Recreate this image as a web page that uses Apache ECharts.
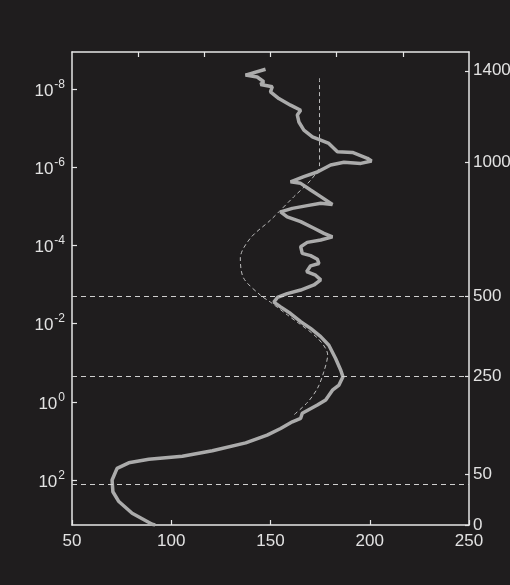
<!DOCTYPE html>
<html>
<head>
<meta charset="utf-8">
<script src="https://cdn.jsdelivr.net/npm/echarts@6/dist/echarts.min.js"></script>
<style>
  html, body { margin: 0; padding: 0; background: #1f1d1e; }
  #chart { width: 510px; height: 585px; }
</style>
</head>
<body>
<div id="chart"></div>
<script>
// measured temperature profile: x = temperature, y = log10(pressure)
var tempMain = [147.5, 137.4, 143.3, 146.6, 145.0, 150.9, 150.0, 154.2, 160.1, 165.2,
  163.5, 164.3, 166.8, 171.1, 179.4, 183.7, 191.3, 198.8, 200.9, 195.5,
  187.0, 180.3, 173.6, 166.8, 160.1, 165.2, 170.2, 175.3, 181.2, 175.3,
  168.5, 161.0, 155.1, 158.4, 165.2, 171.9, 176.9, 181.2, 175.3, 168.5,
  165.2, 166.0, 170.2, 173.6, 174.4, 170.2, 168.2, 172.7, 175.3, 171.9,
  165.2, 158.4, 153.5, 151.7, 155.1, 160.1, 165.2, 170.2, 175.3, 179.4,
  182.8, 185.4, 186.5, 184.5, 181.2, 177.8, 173.6, 166.0, 165.2, 161.0,
  155.1, 148.3, 137.5, 120.7, 105.6, 88.7, 78.6, 72.7, 70.2, 70.6,
  73.6, 80.3, 90.4, 91.9]
var logpMain = [-8.51, -8.36, -8.31, -8.19, -8.12, -8.06, -7.93, -7.76, -7.59, -7.46,
  -7.34, -7.16, -6.95, -6.78, -6.61, -6.40, -6.38, -6.23, -6.16, -6.10,
  -6.13, -6.06, -5.88, -5.76, -5.63, -5.59, -5.42, -5.25, -5.05, -5.08,
  -5.02, -4.95, -4.86, -4.73, -4.61, -4.44, -4.31, -4.22, -4.14, -4.08,
  -3.97, -3.80, -3.74, -3.65, -3.54, -3.48, -3.33, -3.24, -3.12, -2.99,
  -2.86, -2.77, -2.67, -2.55, -2.43, -2.26, -2.05, -1.88, -1.67, -1.45,
  -1.11, -0.81, -0.64, -0.43, -0.30, -0.05, 0.08, 0.29, 0.42, 0.51,
  0.68, 0.85, 1.05, 1.25, 1.39, 1.47, 1.56, 1.70, 2.00, 2.30,
  2.55, 2.85, 3.13, 3.15]

// model profile (dashed)
var tempModel = [174.7, 174.7, 170.2, 161.6, 150.0, 139.9, 134.8, 136.4, 144.9, 150.0,
  158.6, 173.7, 178.8, 176.8, 173.7, 168.7, 161.6]
var logpModel = [-8.28, -6.06, -5.67, -5.24, -4.65, -4.19, -3.68, -3.17, -2.73, -2.55,
  -2.22, -1.63, -1.20, -0.76, -0.35, 0.01, 0.34]

// horizontal dashed levels (log10 pressure)
var levelLines = [-2.71, -0.66, 2.10]

// left axis: pressure exponents
var pressureExp = [-8, -6, -4, -2, 0, 2]
// right axis: altitude labels and their log10 pressure positions
var altLabels = ['1400', '1000', '500', '250', '50', '0']
var altPos = [-8.47, -6.12, -2.70, -0.66, 1.85, 3.15]
// top axis ticks (sixths)
var topTicks = [1, 2, 3, 4, 5]

var yMin = -8.95
var yMax = 3.15

function pairs (xs, ys) {
  var out = []
  for (var i = 0; i < xs.length; i++) out.push([xs[i], ys[i]])
  return out
}

var fontName = 'Liberation Sans, Arial, sans-serif'
var axisColor = '#e6e6e6'
var textColor = '#e2e2e2'

var chartDom = document.getElementById('chart')
var myChart = echarts.init(chartDom, null, { renderer: 'canvas' })
var option = {
  backgroundColor: '#1f1d1e',
  animation: false,
  grid: {
    left: 72,
    right: 41,
    top: 52,
    bottom: 60,
    containLabel: false,
    outerBoundsMode: 'none'
  },
  xAxis: [
    {
      type: 'value',
      position: 'bottom',
      min: 50,
      max: 250,
      interval: 50,
      axisLine: { show: true, onZero: false, lineStyle: { color: axisColor, width: 1.5 } },
      axisTick: { show: true, inside: true, length: 5, lineStyle: { color: axisColor, width: 1.2 } },
      axisLabel: { color: textColor, fontFamily: fontName, fontSize: 17, margin: 8 },
      splitLine: { show: false }
    },
    {
      type: 'value',
      position: 'top',
      min: 0,
      max: 6,
      interval: 1,
      axisLine: { show: true, onZero: false, lineStyle: { color: axisColor, width: 1.5 } },
      axisTick: { show: true, inside: true, length: 5, customValues: topTicks, lineStyle: { color: axisColor, width: 1.2 } },
      axisLabel: { show: false },
      splitLine: { show: false }
    }
  ],
  yAxis: [
    {
      type: 'value',
      position: 'left',
      inverse: true,
      min: yMin,
      max: yMax,
      axisLine: { show: true, onZero: false, lineStyle: { color: axisColor, width: 1.5 } },
      axisTick: { show: true, inside: true, length: 5, customValues: pressureExp, lineStyle: { color: axisColor, width: 1.2 } },
      axisLabel: {
        customValues: pressureExp,
        margin: 7,
        formatter: function (v) {
          return '{b|10}{s|' + v + '}'
        },
        rich: {
          b: { color: textColor, fontFamily: fontName, fontSize: 17, verticalAlign: 'bottom' },
          s: { color: textColor, fontFamily: fontName, fontSize: 12, verticalAlign: 'bottom', padding: [0, 0, 9, 1] }
        }
      },
      splitLine: { show: false }
    },
    {
      type: 'value',
      position: 'right',
      inverse: true,
      min: yMin,
      max: yMax,
      axisLine: { show: true, onZero: false, lineStyle: { color: axisColor, width: 1.5 } },
      axisTick: { show: true, inside: true, length: 4, customValues: altPos, lineStyle: { color: axisColor, width: 1.2 } },
      axisLabel: {
        customValues: altPos,
        margin: 4,
        color: textColor,
        fontFamily: fontName,
        fontSize: 17,
        formatter: function (v) {
          var i = altPos.indexOf(v)
          return i >= 0 ? altLabels[i] : ''
        }
      },
      splitLine: { show: false }
    }
  ],
  series: [
    {
      name: 'model',
      type: 'line',
      xAxisIndex: 0,
      yAxisIndex: 0,
      data: pairs(tempModel, logpModel),
      showSymbol: false,
      smooth: 0.3,
      lineStyle: { color: '#bdbdbd', width: 1, type: [4, 3] },
      silent: true
    },
    {
      name: 'measured',
      type: 'line',
      xAxisIndex: 0,
      yAxisIndex: 0,
      data: pairs(tempMain, logpMain),
      showSymbol: false,
      lineStyle: { color: '#ababab', width: 3.5 },
      silent: true,
      markLine: {
        silent: true,
        symbol: ['none', 'none'],
        label: { show: false },
        lineStyle: { color: '#cfcfcf', width: 1, type: [5, 4] },
        data: levelLines.map(function (v) { return { yAxis: v } })
      }
    }
  ]
}

option && myChart.setOption(option)
</script>
</body>
</html>
